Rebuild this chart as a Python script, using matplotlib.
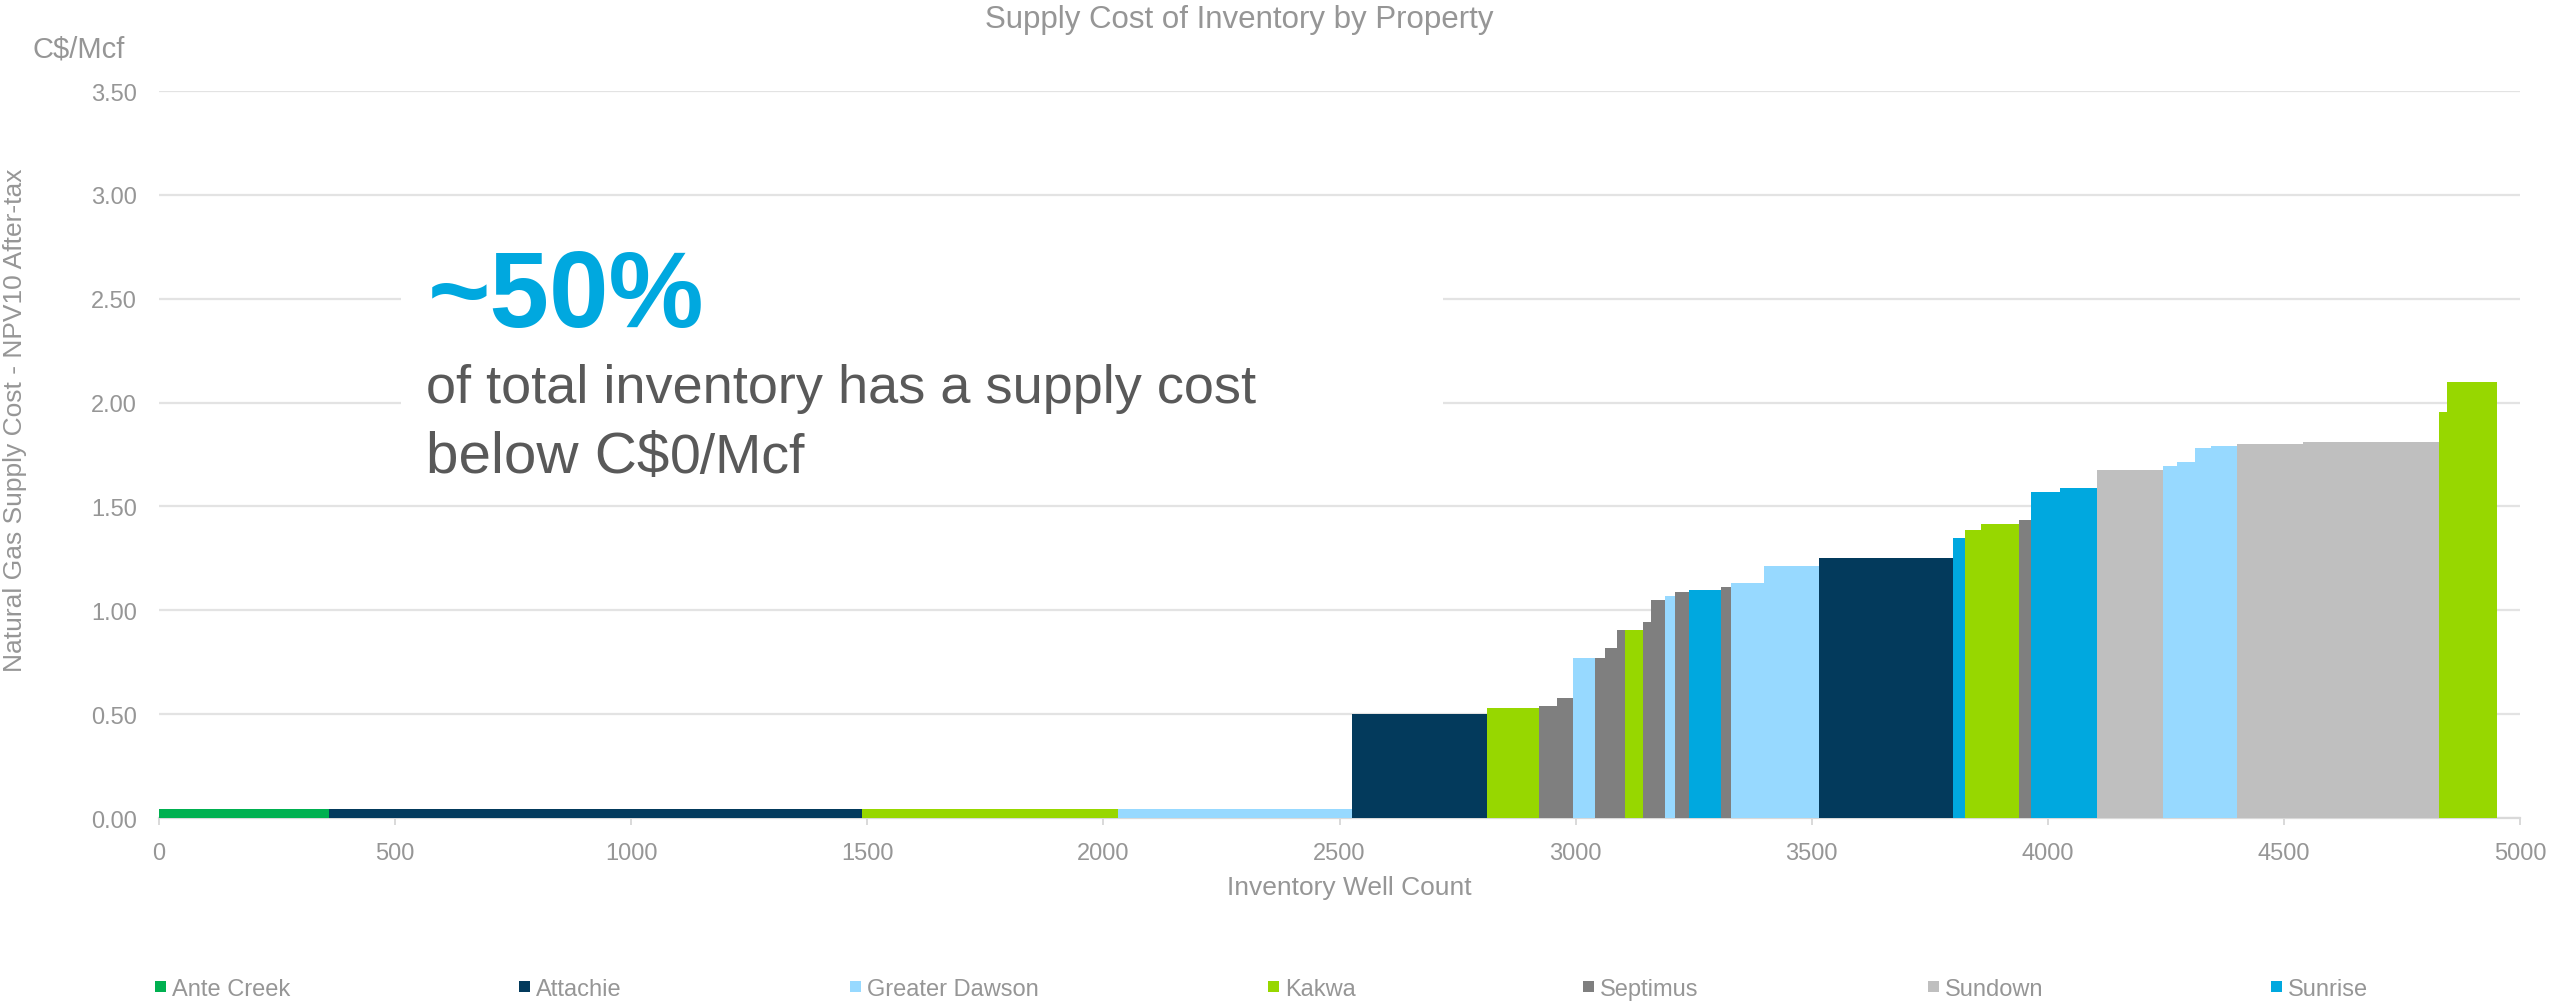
import matplotlib
matplotlib.use("Agg")
import matplotlib.pyplot as plt
from matplotlib.patches import Rectangle

plt.rcParams['font.family'] = ['Liberation Sans', 'DejaVu Sans']

# ---------------- data ----------------
properties = ["Ante Creek", "Attachie", "Greater Dawson", "Kakwa", "Septimus", "Sundown", "Sunrise"]
property_colors = ["#00B050", "#033A5C", "#97D9FF", "#97D700", "#7F7F7F", "#BFBFBF", "#00A8DF"]

segment_property = [
    "Ante Creek", "Attachie", "Kakwa", "Greater Dawson",
    "Attachie", "Kakwa", "Septimus", "Septimus", "Greater Dawson", "Septimus",
    "Septimus", "Septimus", "Kakwa", "Septimus", "Septimus", "Greater Dawson",
    "Septimus", "Sunrise", "Septimus", "Greater Dawson", "Greater Dawson",
    "Attachie", "Sunrise", "Kakwa", "Kakwa", "Septimus", "Sunrise", "Sunrise",
    "Sundown", "Greater Dawson", "Greater Dawson", "Greater Dawson", "Greater Dawson",
    "Sundown", "Sundown", "Kakwa", "Kakwa",
]
segment_wells = [
    361, 1127, 543, 496,
    286, 110, 38, 34, 47, 21,
    25, 17, 38, 17, 30, 21,
    30, 67, 22, 68, 118,
    284, 25, 34, 81, 25, 60, 80,
    140, 29, 38, 34, 55,
    140, 288, 17, 106,
]
segment_cost = [
    0.045, 0.045, 0.045, 0.045,
    0.50, 0.53, 0.54, 0.58, 0.77, 0.77,
    0.82, 0.905, 0.905, 0.945, 1.05, 1.07,
    1.09, 1.10, 1.11, 1.13, 1.215,
    1.25, 1.35, 1.385, 1.415, 1.435, 1.57, 1.59,
    1.675, 1.695, 1.715, 1.78, 1.79,
    1.80, 1.81, 1.955, 2.10,
]

y_ticks = [0.0, 0.5, 1.0, 1.5, 2.0, 2.5, 3.0, 3.5]
x_ticks = [0, 500, 1000, 1500, 2000, 2500, 3000, 3500, 4000, 4500, 5000]

title = "Supply Cost of Inventory by Property"
x_label = "Inventory Well Count"
y_label = "Natural Gas Supply Cost - NPV10 After-tax"
unit_label = "C$/Mcf"
callout_big = "~50%"
callout_line1 = "of total inventory has a supply cost"
callout_line2a = "below C$"
callout_line2b = "0/Mcf"

# ---------------- layout ----------------
W, H = 2549, 1003
fig = plt.figure(figsize=(W / 100, H / 100), dpi=100)

def fx(px):
    return px / W

def fy(py):
    return 1 - py / H

ax_left, ax_right, ax_top, ax_bottom = 159, 2520, 92, 819
ax = fig.add_axes([fx(ax_left), fy(ax_bottom), fx(ax_right - ax_left), (ax_bottom - ax_top) / H])

text_gray = "#969696"
grid_col = "#E3E3E3"

color_map = dict(zip(properties, property_colors))
lefts = []
acc = 0
for w in segment_wells:
    lefts.append(acc)
    acc += w

ax.bar(lefts, segment_cost, width=segment_wells, align="edge",
       color=[color_map[p] for p in segment_property], linewidth=0, zorder=3)

ax.set_xlim(0, 5000)
ax.set_ylim(0, 3.5)
ax.set_yticks(y_ticks)
ax.set_yticklabels([f"{v:.2f}" for v in y_ticks])
ax.set_xticks(x_ticks)
ax.set_xticklabels([str(v) for v in x_ticks])
ax.set_axisbelow(True)
ax.grid(axis="y", color=grid_col, linewidth=1.6, zorder=0)
for s in ["top", "right", "left"]:
    ax.spines[s].set_visible(False)
ax.spines["bottom"].set_color("#D9D9D9")
ax.spines["bottom"].set_linewidth(1.6)
ax.tick_params(axis="y", length=0, pad=16, labelsize=17, labelcolor=text_gray)
ax.tick_params(axis="x", length=5, width=1.4, color="#D9D9D9", pad=12, labelsize=17, labelcolor=text_gray)

# white box behind the callout, masking gridlines
box = Rectangle((fx(401), fy(500)), fx(1443 - 401), (500 - 240) / H, transform=fig.transFigure,
                facecolor="white", edgecolor="none", zorder=1)
ax.add_patch(box)
box.set_clip_on(False)

fig.text(fx(428), fy(327), callout_big, fontsize=77, fontweight="bold", color="#00A8DF",
         ha="left", va="baseline")
fig.text(fx(426), fy(403), callout_line1, fontsize=39, color="#595959",
         ha="left", va="baseline")
t2a = fig.text(fx(426), fy(473), callout_line2a, fontsize=42, color="#595959",
               ha="left", va="baseline")
renderer = fig.canvas.get_renderer()
bb = t2a.get_window_extent(renderer=renderer)
fig.text(bb.x1 / W, fy(473), callout_line2b, fontsize=40, color="#595959",
         ha="left", va="baseline")

fig.text(fx(1239), fy(28), title, fontsize=22.5, color=text_gray, ha="center", va="baseline")
fig.text(fx(32), fy(58), unit_label, fontsize=21, color=text_gray, ha="left", va="baseline")
fig.text(fx(15), fy(420), y_label, fontsize=19, color=text_gray, rotation=90, ha="center", va="center")
fig.text(fx(1349), fy(895), x_label, fontsize=19, color=text_gray, ha="center", va="baseline")

# legend
legend_x = [155, 519, 850, 1268, 1583, 1928, 2271]
for lx, name, col in zip(legend_x, properties, property_colors):
    fig.patches.append(Rectangle((fx(lx), fy(993)), fx(11), 11 / H, transform=fig.transFigure,
                                 facecolor=col, edgecolor="none"))
    fig.text(fx(lx + 17), fy(996), name, fontsize=17, color=text_gray, ha="left", va="baseline")

fig.savefig("out.png", dpi=100, facecolor="white")
